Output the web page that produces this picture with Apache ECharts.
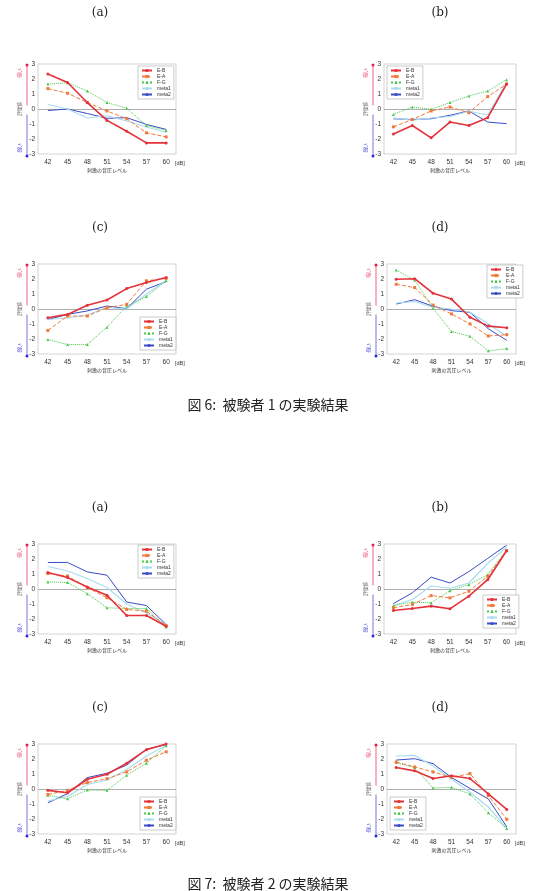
<!DOCTYPE html>
<html>
<head>
<meta charset="utf-8">
<script src="https://cdn.jsdelivr.net/npm/echarts@6/dist/echarts.min.js"></script>
<style>
html, body { margin: 0; padding: 0; background: #fff; }
#chart { width: 543px; height: 891px; }
</style>
</head>
<body>
<div id="chart"></div>
<script>
const categories = ['42', '45', '48', '51', '54', '57', '60']
const seriesNames = ['E-B', 'E-A', 'F-G', 'meta1', 'meta2']

// 図6 被験者1
const f6a_EB = [2.33, 1.77, 0.43, -0.76, -1.48, -2.26, -2.26]
const f6a_EA = [1.36, 1.05, 0.43, -0.13, -0.65, -1.59, -1.86]
const f6a_FG = [1.66, 1.75, 1.2, 0.43, 0.05, -1.1, -1.43]
const f6a_m1 = [0.3, 0.0, -0.6, -0.45, -0.8, -1.2, -1.55]
const f6a_m2 = [-0.1, 0.0, -0.3, -0.62, -0.58, -1.03, -1.36]

const f6b_EB = [-1.66, -1.1, -1.92, -0.87, -1.1, -0.58, 1.66]
const f6b_EA = [-1.19, -0.7, -0.13, 0.13, -0.25, 0.83, 1.66]
const f6b_FG = [-0.36, 0.13, -0.02, 0.43, 0.87, 1.2, 1.95]
const f6b_m1 = [-0.6, -0.75, -0.6, -0.5, -0.15, -0.4, 1.8]
const f6b_m2 = [-0.65, -0.7, -0.65, -0.42, -0.13, -0.87, -0.98]

const f6c_EB = [-0.58, -0.36, 0.25, 0.6, 1.36, 1.77, 2.1]
const f6c_EA = [-1.43, -0.47, -0.47, 0.09, 0.31, 1.88, 2.04]
const f6c_FG = [-2.04, -2.37, -2.37, -1.21, 0.2, 0.83, 1.88]
const f6c_m1 = [-0.7, -0.6, -0.4, 0.1, 0.0, 1.0, 1.9]
const f6c_m2 = [-0.7, -0.36, -0.13, 0.2, 0.02, 1.32, 1.83]

const f6d_EB = [1.98, 2.02, 1.05, 0.66, -0.55, -1.14, -1.25]
const f6d_EA = [1.65, 1.43, 0.26, -0.33, -0.99, -1.8, -1.71]
const f6d_FG = [2.6, 1.93, 0.04, -1.5, -1.82, -2.79, -2.64]
const f6d_m1 = [0.4, 0.5, 0.1, 0.0, -0.2, -1.0, -1.8]
const f6d_m2 = [0.33, 0.62, 0.18, -0.11, -0.22, -1.32, -2.09]

// 図7 被験者2
const f7a_EB = [1.1, 0.76, 0.13, -0.42, -1.77, -1.77, -2.48]
const f7a_EA = [1.03, 0.87, 0.09, -0.58, -1.36, -1.48, -2.44]
const f7a_FG = [0.47, 0.43, -0.31, -1.25, -1.3, -1.3, -2.53]
const f7a_m1 = [1.5, 1.2, 0.7, 0.1, -1.0, -1.6, -2.4]
const f7a_m2 = [1.77, 1.77, 1.14, 0.92, -0.87, -1.1, -2.37]

const f7b_EB = [-1.43, -1.3, -1.14, -1.32, -0.48, 0.62, 2.55]
const f7b_EA = [-1.25, -1.03, -0.44, -0.59, -0.15, 0.84, 2.55]
const f7b_FG = [-1.1, -0.88, -0.92, -0.11, 0.29, 0.95, 2.6]
const f7b_m1 = [-1.1, -0.7, 0.2, 0.05, 0.4, 1.7, 2.8]
const f7b_m2 = [-0.97, -0.26, 0.79, 0.4, 1.16, 2.04, 2.92]

const f7c_EB = [-0.09, -0.25, 0.65, 0.98, 1.72, 2.62, 3.0]
const f7c_EA = [-0.36, -0.09, 0.43, 0.69, 1.14, 1.92, 2.48]
const f7c_FG = [-0.42, -0.65, -0.07, -0.09, 0.92, 1.72, 2.89]
const f7c_m1 = [-0.8, -0.5, 0.3, 0.6, 1.3, 2.2, 2.9]
const f7c_m2 = [-0.92, -0.31, 0.76, 1.05, 1.59, 2.66, 2.96]

const f7d_EB = [1.43, 1.21, 0.7, 0.88, 0.7, -0.33, -1.36]
const f7d_EA = [1.8, 1.47, 1.14, 0.77, 1.03, -0.44, -2.02]
const f7d_FG = [1.76, 1.43, 0.07, 0.11, -0.33, -1.58, -2.64]
const f7d_m1 = [2.2, 2.24, 1.54, 0.66, -0.22, -1.2, -2.64]
const f7d_m2 = [1.93, 2.02, 1.69, 0.77, 0.04, -0.66, -2.53]

const panels = [
  { label: '(a)', lx: 100, ly: 13, grid: { left: 38, top: 64, width: 138, height: 90 }, legend: { left: 138, top: 66 }, data: [f6a_EB, f6a_EA, f6a_FG, f6a_m1, f6a_m2] },
  { label: '(b)', lx: 440, ly: 13, grid: { left: 384, top: 64, width: 132, height: 90 }, legend: { left: 387, top: 66 }, data: [f6b_EB, f6b_EA, f6b_FG, f6b_m1, f6b_m2] },
  { label: '(c)', lx: 100, ly: 228, grid: { left: 38, top: 264, width: 138, height: 90 }, legend: { left: 140, top: 317 }, data: [f6c_EB, f6c_EA, f6c_FG, f6c_m1, f6c_m2] },
  { label: '(d)', lx: 440, ly: 228, grid: { left: 387, top: 264, width: 129, height: 90 }, legend: { left: 487, top: 265 }, data: [f6d_EB, f6d_EA, f6d_FG, f6d_m1, f6d_m2] },
  { label: '(a)', lx: 100, ly: 508, grid: { left: 38, top: 544, width: 138, height: 90 }, legend: { left: 138, top: 545 }, data: [f7a_EB, f7a_EA, f7a_FG, f7a_m1, f7a_m2] },
  { label: '(b)', lx: 440, ly: 508, grid: { left: 384, top: 544, width: 132, height: 90 }, legend: { left: 483, top: 595 }, data: [f7b_EB, f7b_EA, f7b_FG, f7b_m1, f7b_m2] },
  { label: '(c)', lx: 100, ly: 708, grid: { left: 38, top: 744, width: 138, height: 90 }, legend: { left: 140, top: 797 }, data: [f7c_EB, f7c_EA, f7c_FG, f7c_m1, f7c_m2] },
  { label: '(d)', lx: 440, ly: 708, grid: { left: 387, top: 744, width: 129, height: 90 }, legend: { left: 390, top: 797 }, data: [f7d_EB, f7d_EA, f7d_FG, f7d_m1, f7d_m2] }
]

const lineStyles = [
  { color: '#e3323a', type: 'solid', width: 1.6, symbol: 'circle', size: 3 },
  { color: '#f07a3c', type: 'dashed', width: 1, symbol: 'rect', size: 3 },
  { color: '#49c94a', type: 'dotted', width: 1, symbol: 'triangle', size: 3 },
  { color: '#a9dcef', type: 'solid', width: 1.2, symbol: 'none', size: 0 },
  { color: '#3a4cc6', type: 'solid', width: 1, symbol: 'none', size: 0 }
]

const font = 'Liberation Sans'
const grids = [], xAxes = [], yAxes = [], series = [], legends = [], graphics = []

panels.forEach((p, i) => {
  const g = p.grid
  grids.push(Object.assign({ show: true, borderColor: '#c8c8c8', borderWidth: 0.8, backgroundColor: '#fff' }, g))
  xAxes.push({
    gridIndex: i,
    type: 'category',
    data: categories,
    boundaryGap: true,
    axisLine: { show: false },
    axisTick: { show: false },
    axisLabel: { fontSize: 6.5, color: '#333', margin: 5, fontFamily: font },
    name: '刺激の音圧レベル',
    nameLocation: 'middle',
    nameGap: 14,
    nameTextStyle: { fontSize: 5, color: '#333', fontFamily: 'Noto Sans CJK JP' }
  })
  yAxes.push({
    gridIndex: i,
    type: 'value',
    min: -3,
    max: 3,
    interval: 1,
    splitLine: { show: false },
    axisLine: { show: false },
    axisTick: { show: false },
    axisLabel: { fontSize: 6.5, color: '#333', margin: 3, fontFamily: font }
  })
  seriesNames.forEach((name, k) => {
    const s = lineStyles[k]
    const item = {
      name: name,
      type: 'line',
      xAxisIndex: i,
      yAxisIndex: i,
      data: p.data[k],
      symbol: s.symbol,
      symbolSize: s.size,
      lineStyle: { color: s.color, type: s.type, width: s.width },
      itemStyle: { color: s.color },
      animation: false,
      z: 10 - k
    }
    if (k === 0) {
      item.markLine = {
        silent: true,
        symbol: 'none',
        label: { show: false },
        lineStyle: { color: '#9a9a9a', width: 0.8, type: 'solid' },
        data: [{ yAxis: 0 }]
      }
    }
    series.push(item)
  })
  legends.push({
    data: seriesNames,
    left: p.legend.left,
    top: p.legend.top,
    orient: 'vertical',
    itemWidth: 10,
    itemHeight: 4,
    itemGap: 1,
    padding: [2, 3],
    borderColor: '#aaa',
    borderWidth: 0.6,
    backgroundColor: '#fff',
    textStyle: { fontSize: 5, color: '#333', fontFamily: font }
  })

  // panel label and side decoration
  const L = g.left, T = g.top, W = g.width, H = g.height
  graphics.push(
    { type: 'text', x: p.lx, y: p.ly, style: { text: p.label, fontSize: 12, fontFamily: 'DejaVu Serif', fill: '#222', align: 'center', verticalAlign: 'middle' } },
    { type: 'line', shape: { x1: L - 11, y1: T + 1, x2: L - 11, y2: T + H * 0.46 }, style: { stroke: '#f27c94', lineWidth: 1.2 } },
    { type: 'line', shape: { x1: L - 11, y1: T + H * 0.56, x2: L - 11, y2: T + H + 2 }, style: { stroke: '#8a8ee2', lineWidth: 1.2 } },
    { type: 'circle', shape: { cx: L - 11, cy: T + 1, r: 1.5 }, style: { fill: '#e0204a' } },
    { type: 'circle', shape: { cx: L - 11, cy: T + H + 2, r: 1.5 }, style: { fill: '#2a2ed0' } },
    { type: 'text', x: L - 19, y: T + 9, rotation: Math.PI / 2, style: { text: '強い', fontSize: 4.5, fontFamily: 'Noto Sans CJK JP', fill: '#e8305a', align: 'center', verticalAlign: 'middle' } },
    { type: 'text', x: L - 19, y: T + H / 2, rotation: Math.PI / 2, style: { text: '評価値', fontSize: 4.5, fontFamily: 'Noto Sans CJK JP', fill: '#555', align: 'center', verticalAlign: 'middle' } },
    { type: 'text', x: L - 19, y: T + H - 6, rotation: Math.PI / 2, style: { text: '弱い', fontSize: 4.5, fontFamily: 'Noto Sans CJK JP', fill: '#3030d0', align: 'center', verticalAlign: 'middle' } },
    { type: 'text', x: L + W - 1, y: T + H + 9, style: { text: '[dB]', fontSize: 5.5, fontFamily: font, fill: '#333', align: 'left', verticalAlign: 'middle' } }
  )
})

graphics.push(
  { type: 'text', x: 268, y: 405, style: { text: '図 6:  被験者 1 の実験結果', fontSize: 14, fontFamily: 'Noto Sans CJK JP', fill: '#222', align: 'center', verticalAlign: 'middle' } },
  { type: 'text', x: 268, y: 884, style: { text: '図 7:  被験者 2 の実験結果', fontSize: 14, fontFamily: 'Noto Sans CJK JP', fill: '#222', align: 'center', verticalAlign: 'middle' } }
)

const myChart = echarts.init(document.getElementById('chart'))
myChart.setOption({
  animation: false,
  backgroundColor: '#fff',
  grid: grids,
  xAxis: xAxes,
  yAxis: yAxes,
  legend: legends,
  series: series,
  graphic: graphics
})
</script>
</body>
</html>
